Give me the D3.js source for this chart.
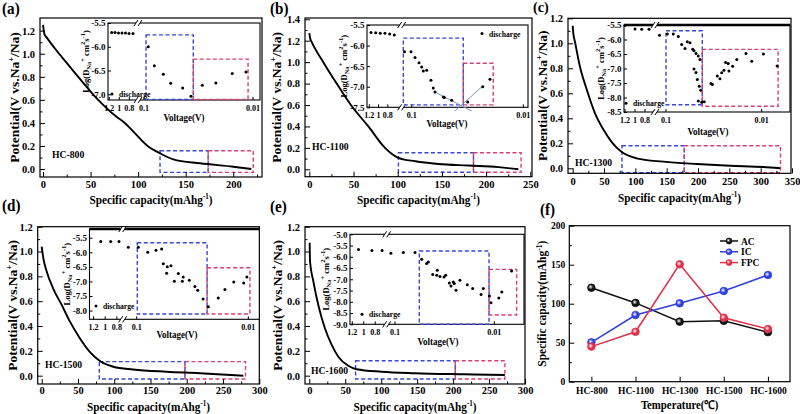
<!DOCTYPE html>
<html><head><meta charset="utf-8">
<script src="https://cdn.jsdelivr.net/npm/d3@7"></script>
<style>
body{margin:0;background:#fff}
svg{display:block}
text{font-family:'Liberation Serif','Times New Roman',serif;font-weight:bold;fill:#000}
</style>
</head><body>
<svg id="c" width="800" height="414"></svg>
<script>
// ================= DATA =================
// (a) HC-800 discharge curve
const capA=[0,1.5,4,14,25,37,58,77,86,95,110,123,137,165,200,219];
const potA=[1.25,1.17,1.14,1.03,0.92,0.80,0.60,0.455,0.40,0.325,0.20,0.136,0.084,0.05,0.02,0.0];
const voltA=[1.152,1.086,1.016,0.946,0.876,0.806,0.726,0.0913,0.0804,0.0665,0.0569,0.0442,0.0371,0.0292,0.0219,0.0155,0.0116];
const logDA=[-5.70,-5.70,-5.71,-5.71,-5.71,-5.72,-5.72,-6.0,-6.4,-6.58,-6.77,-6.87,-7.04,-6.81,-6.76,-6.56,-6.53];
const regionA=[123,173.6,221];            // capacity limits of the blue / red regions
const insBlueA=[0.0958,0.0353,-5.75,-7.11]; // voltage from, to, logD top, bottom
const insRedA=[0.0353,0.0111,-6.26,-7.11];

// (b) HC-1100
const capB=[0,1,2.6,15.8,31,47,66.8,85.6,100,120,146,180,214,236.5];
const potB=[1.27,1.22,1.19,1.0,0.8,0.6,0.4,0.2,0.11,0.075,0.05,0.035,0.02,0.0];
const voltB=[1.164,1.062,0.963,0.861,0.76,0.66,0.116,0.1014,0.0934,0.086,0.0814,0.0787,0.0734,0.0672,0.0641,0.0618,0.0521,0.051,0.0438,0.0315,0.0231,0.0199];
const logDB=[-5.68,-5.69,-5.70,-5.70,-5.72,-5.74,-6.15,-6.15,-6.29,-6.42,-6.52,-6.62,-6.60,-6.84,-7.03,-7.13,-7.25,-7.26,-7.33,-7.37,-7.0,-6.82];
const regionB=[100.8,185.7,239.5];
const insBlueB=[0.1189,0.0345,-5.82,-7.44];
const insRedB=[0.0345,0.0186,-6.43,-7.44];
const tangent1V=[0.0618,0.029], tangent1D=[-7.13,-7.59];
const tangent2V=[0.041,0.0228], tangent2D=[-7.59,-6.97];

// (c) HC-1300
const capC=[0,1,3.7,11.7,22.4,35.6,49,62.3,78.3,102,144.7,198,251,304.5,331];
const potC=[1.14,1.08,1.01,0.81,0.63,0.44,0.31,0.21,0.13,0.08,0.053,0.034,0.02,0.01,0.0];
const voltC=[1.2,1.0,0.866,0.72,0.117,0.0969,0.0839,0.0744,0.0686,0.0633,0.0599,0.0561,0.0526,0.051,0.0486,0.046,0.0442,0.051,0.0486,0.0471,0.0449,0.0434,0.046,0.0424,0.0398,0.0339,0.0328,0.0291,0.0273,0.0262,0.0248,0.0238,0.0224,0.022,0.0201,0.0182,0.0146,0.0127,0.0096,0.0069];
const logDC=[-5.52,-5.64,-5.65,-5.65,-5.85,-5.81,-5.81,-5.90,-6.17,-6.31,-6.08,-6.11,-6.34,-6.39,-6.48,-6.57,-6.69,-7.02,-7.14,-7.38,-7.61,-7.75,-8.12,-8.16,-8.15,-7.52,-7.55,-7.26,-7.35,-7.15,-7.06,-6.79,-6.83,-7.09,-6.92,-6.69,-6.48,-6.75,-6.5,-6.91];
const regionC=[78.6,178,331.6];
const insBlueC=[0.1,0.0418,-5.70,-8.25];
const insRedC=[0.0418,0.00674,-6.34,-8.3];

// (d) HC-1500
const capD=[0,2.3,6.9,16,27.6,39,52.8,66.6,80.3,98.7,126,172,218,278];
const potD=[1.04,0.945,0.84,0.70,0.57,0.435,0.30,0.19,0.118,0.072,0.05,0.032,0.02,0.0];
const voltD=[1.077,0.906,0.763,0.119,0.0967,0.0797,0.0672,0.0598,0.0578,0.0532,0.0539,0.0493,0.046,0.0424,0.039,0.0383,0.0338,0.0301,0.0284,0.0254,0.0228,0.0186,0.0162,0.0135,0.011,0.0103];
const logDD=[-5.63,-5.63,-5.63,-5.83,-5.83,-6.0,-5.93,-5.89,-6.39,-6.5,-6.72,-6.46,-6.99,-6.73,-6.99,-6.85,-6.96,-7.17,-7.3,-7.6,-7.87,-7.57,-7.28,-7.02,-7.05,-6.85];
const regionD=[79.4,197.5,281];
const insBlueD=[0.0988,0.0234,-5.67,-8.12];
const insRedD=[0.0234,0.00967,-6.53,-8.12];

// (e) HC-1600
const capE=[0.5,1,5.6,12.5,21.8,31,40.3,54.2,65.8,100.5,146.8,216,272];
const potE=[1.07,0.92,0.76,0.57,0.38,0.25,0.153,0.08,0.052,0.032,0.02,0.011,0.005];
const voltE=[1.092,0.858,0.681,0.11,0.0825,0.0629,0.0539,0.048,0.0462,0.0417,0.038,0.0375,0.0352,0.0321,0.0309,0.0284,0.0273,0.0259,0.0253,0.0243,0.0222,0.0187,0.0165,0.0136,0.0129,0.0112,0.0108,0.009,0.0084,0.0067];
const logDE=[-5.68,-5.72,-5.72,-5.84,-5.81,-5.81,-6.11,-6.3,-6.23,-6.79,-6.82,-6.6,-6.87,-6.9,-6.82,-7.16,-7.3,-7.12,-7.19,-7.49,-7.04,-7.24,-7.41,-7.67,-7.41,-7.74,-8.04,-7.83,-7.56,-6.63];
const regionE=[64.4,203,272];
const insBlueE=[0.0569,0.0113,-5.74,-9.0];
const insRedE=[0.0113,0.00596,-6.56,-8.59];

// (f) capacity contributions
const categories=["HC-800","HC-1100","HC-1300","HC-1500","HC-1600"];
const AC=[120.5,101,77,78,63.5];
const IC=[50.5,85.5,100.5,116.3,136.8];
const FPC=[45,64,150.5,82,67.5];

// tick labels
const insetLinTicks=[1.2,1,0.8];
const insetLogTicks=[0.1,0.01];
const fYTicks=[0,50,100,150,200];

// ================= DRAWING =================
const svg=d3.select("#c");
const BLUE="#3947d6", RED="#d9416f";

const defs=svg.append("defs");
function ballGrad(id,col){
  const gr=defs.append("radialGradient").attr("id",id).attr("cx","40%").attr("cy","40%").attr("r","60%");
  gr.append("stop").attr("offset","0%").attr("stop-color","#fff");
  gr.append("stop").attr("offset","55%").attr("stop-color",col);
  gr.append("stop").attr("offset","100%").attr("stop-color",col);
}
ballGrad("gAC","#111");ballGrad("gIC","#2f3fe0");ballGrad("gFPC","#e0304a");

function dashedRect(g,x0,x1,y0,y1,col){
  g.append("rect").attr("x",Math.min(x0,x1)).attr("y",Math.min(y0,y1))
   .attr("width",Math.abs(x1-x0)).attr("height",Math.abs(y1-y0))
   .attr("fill","none").attr("stroke",col).attr("stroke-width",1.4).attr("stroke-dasharray","4,2.5");
}

function hText(g,x,y,anchor,size,sx){
  return g.append("text").attr("transform",`translate(${x},${y}) scale(${sx||0.88},1)`)
    .attr("text-anchor",anchor).attr("font-size",size);
}

function drawMain(p){
  const x=d3.scaleLinear().domain(p.xDom).range([p.L,p.R]);
  const y=d3.scaleLinear().domain(p.yDom).range([p.B,p.T]);
  const g=svg.append("g");
  // regions
  dashedRect(g,x(p.region[0]),x(p.region[1]),y(p.boxY[0]),y(p.boxY[1]),BLUE);
  dashedRect(g,x(p.region[1]),x(p.region[2]),y(p.boxY[0]),y(p.boxY[1]),RED);
  // curve
  g.append("path").datum(d3.range(p.cap.length))
   .attr("d",d3.line().x(i=>x(p.cap[i])).y(i=>y(p.pot[i])).curve(d3.curveMonotoneX))
   .attr("fill","none").attr("stroke","#000").attr("stroke-width",1.9);
  // axes
  const xa=g.append("g").attr("transform",`translate(0,${p.B})`)
    .call(d3.axisBottom(x).tickValues(p.xTicks).tickSize(-5).tickPadding(p.xPad).tickFormat(d3.format("d")));
  xa.attr("font-size",10.5).attr("font-family",null);
  xa.select(".domain").remove();
  g.append("g").attr("transform",`translate(0,${p.B})`)
    .call(d3.axisBottom(x).tickValues(p.xMinor).tickSize(-2.5).tickFormat(""))
    .select(".domain").remove();
  const ya=g.append("g").attr("transform",`translate(${p.L},0)`)
    .call(d3.axisLeft(y).tickValues(p.yTicks).tickSize(-5).tickPadding(5).tickFormat(d=>d.toFixed(1)));
  ya.attr("font-size",10.5).attr("font-family",null);
  ya.select(".domain").remove();
  g.append("g").attr("transform",`translate(${p.L},0)`)
    .call(d3.axisLeft(y).tickValues(p.yMinor).tickSize(-2.5).tickFormat(""))
    .select(".domain").remove();
  g.selectAll(".tick line").attr("stroke-width",1);
  g.append("rect").attr("x",p.L).attr("y",p.T).attr("width",p.R-p.L).attr("height",p.B-p.T)
   .attr("fill","none").attr("stroke","#000").attr("stroke-width",1.2);
  // titles
  const xt=hText(g,(p.L+p.R)/2,p.xtitleY,"middle",12.8,0.88);
  xt.append("tspan").text("Specific capacity(mAhg");
  xt.append("tspan").attr("font-size",8).attr("dy",-5).text("-1");
  xt.append("tspan").attr("dy",5).text(")");
  const yt=g.append("text").attr("transform",`translate(${p.ytitleX},${(p.T+p.B)/2}) rotate(-90)`)
    .attr("text-anchor","middle").attr("font-size",13.5);
  yt.append("tspan").text("Potential(V vs.Na");
  yt.append("tspan").attr("font-size",8.5).attr("dy",-5).text("+");
  yt.append("tspan").attr("dy",5).text("/Na)");
  hText(g,p.sampleXY[0],p.sampleXY[1],"start",11).text(p.sample);
  hText(g,p.labelXY[0],p.labelXY[1],"start",p.labelSize||16,0.95).text(p.label);
  drawInset(p.ins);
}

function drawInset(s){
  const g=svg.append("g");
  const y=d3.scaleLinear().domain(s.yDom).range([s.B,s.T]);
  const lin=d3.scaleLinear().domain(s.linDom).range([s.L,s.brk]);
  const lg=d3.scaleLog().domain([0.1,0.01]).range([s.p1,s.p2]);
  const X=v=>v>0.3?lin(v):lg(v);
  g.append("rect").attr("x",s.L).attr("y",s.T).attr("width",s.R-s.L).attr("height",s.B-s.T)
   .attr("fill","#fff").attr("stroke","#000").attr("stroke-width",1.1);
  if(s.thickTop){
    g.append("line").attr("x1",s.L).attr("x2",s.R).attr("y1",s.T).attr("y2",s.T)
     .attr("stroke","#000").attr("stroke-width",2.6);
  }
  // y axis
  const ya=g.append("g").attr("transform",`translate(${s.L},0)`)
    .call(d3.axisLeft(y).tickValues(s.yTicks).tickSize(-3).tickPadding(2.5).tickFormat(d=>d.toFixed(1)));
  ya.attr("font-size",9).attr("font-family",null);
  ya.select(".domain").remove();
  // x ticks
  const tv=insetLinTicks.concat(insetLogTicks);
  tv.forEach(v=>{
    const px=X(v);
    g.append("line").attr("x1",px).attr("x2",px).attr("y1",s.B).attr("y2",s.B-3).attr("stroke","#000");
    hText(g,px,s.B+10.5,"middle",9,0.9).text(String(v));
  });
  // break marks on top and bottom axes
  [s.T,s.B].forEach(yy=>{
    g.append("rect").attr("x",s.brk-2).attr("y",yy-2).attr("width",4).attr("height",4).attr("fill","#fff");
    [-2,2].forEach(o=>{
      g.append("line").attr("x1",s.brk+o-2).attr("y1",yy+3).attr("x2",s.brk+o+2).attr("y2",yy-3)
       .attr("stroke","#000").attr("stroke-width",1);
    });
  });
  // region boxes
  dashedRect(g,X(s.blue[0]),X(s.blue[1]),y(s.blue[2]),y(s.blue[3]),BLUE);
  dashedRect(g,X(s.red[0]),X(s.red[1]),y(s.red[2]),y(s.red[3]),RED);
  // tangent lines
  (s.tangents||[]).forEach(t=>{
    g.append("line").attr("x1",X(t[0][0])).attr("x2",X(t[0][1])).attr("y1",y(t[1][0])).attr("y2",y(t[1][1]))
     .attr("stroke","#7d95c8").attr("stroke-width",1);
  });
  // points
  g.selectAll("circle.pt").data(d3.range(s.volt.length)).join("circle").attr("class","pt")
   .attr("cx",i=>X(s.volt[i])).attr("cy",i=>y(s.logD[i])).attr("r",1.5).attr("fill","#000");
  // legend
  g.append("circle").attr("cx",s.legXY[0]).attr("cy",s.legXY[1]).attr("r",1.5).attr("fill","#000");
  hText(g,s.legXY[0]+7,s.legXY[1]+3,"start",8.5,0.9).text("discharge");
  // labels
  hText(g,s.vlabelXY[0],s.vlabelXY[1],"middle",10,0.9).text("Voltage(V)");
  const yl=g.append("text").attr("transform",`translate(${s.L-s.ylabOff},${(s.T+s.B)/2}) rotate(-90)`)
    .attr("text-anchor","middle").attr("font-size",8.5);
  yl.append("tspan").text("Log(D");
  yl.append("tspan").attr("font-size",6.5).attr("dy",2).text("Na");
  yl.append("tspan").attr("font-size",6.5).attr("dy",-6).text("+");
  yl.append("tspan").attr("dy",4).text(" cm");
  yl.append("tspan").attr("font-size",6.5).attr("dy",-4).text("2");
  yl.append("tspan").attr("dy",4).text("s");
  yl.append("tspan").attr("font-size",6.5).attr("dy",-4).text("-1");
  yl.append("tspan").attr("dy",4).text(")");
}

const xT250=[0,50,100,150,200,250], xT300=[0,50,100,150,200,250,300], xT350=[0,50,100,150,200,250,300,350];
const yT12=[0,0.2,0.4,0.6,0.8,1.0,1.2], yT14=[0,0.2,0.4,0.6,0.8,1.0,1.2,1.4];
const yM12=[0.1,0.3,0.5,0.7,0.9,1.1], yM14=[0.1,0.3,0.5,0.7,0.9,1.1,1.3];

drawMain({L:40,R:262,T:18,B:177,xDom:[-3.15,230.2],yDom:[-0.069,1.31],
  xTicks:[0,50,100,150,200],xMinor:[25,75,125,175,225],yTicks:yT12,yMinor:yM12,xPad:4,
  cap:capA,pot:potA,region:regionA,boxY:[-0.029,0.159],sample:"HC-800",sampleXY:[52,158],
  label:"(a)",labelXY:[2,14],ytitleX:19,xtitleY:204,
  ins:{L:108,R:260,T:23,B:100,yDom:[-7.12,-5.5],yTicks:[-5.5,-6,-6.5,-7],linDom:[1.226,0.626],brk:138,p1:144,p2:253,
    volt:voltA,logD:logDA,blue:insBlueA,red:insRedA,legXY:[112,94],vlabelXY:[184,121],ylabOff:19}});

drawMain({L:305,R:532,T:18,B:176.7,xDom:[-4.9,251.9],yDom:[-0.069,1.412],
  xTicks:xT250,xMinor:[25,75,125,175,225],yTicks:yT14,yMinor:yM14,xPad:4,
  cap:capB,pot:potB,region:regionB,boxY:[-0.028,0.155],sample:"HC-1100",sampleXY:[312,150],
  label:"(b)",labelXY:[270,14],ytitleX:281,xtitleY:204,
  ins:{L:367,R:528,T:25,B:107.3,yDom:[-7.5,-5.5],yTicks:[-5.5,-6,-6.5,-7,-7.5],linDom:[1.25,0.5],brk:401.7,p1:411.7,p2:523.3,
    volt:voltB,logD:logDB,blue:insBlueB,red:insRedB,legXY:[482,33.5],vlabelXY:[447,127],ylabOff:20,
    tangents:[[tangent1V,tangent1D],[tangent2V,tangent2D]]}});

drawMain({L:568,R:791,T:18.3,B:173.3,xDom:[-7.5,348.4],yDom:[-0.04,1.2],
  xTicks:xT350,xMinor:[25,75,125,175,225,275,325],yTicks:yT12,yMinor:yM12,xPad:4,
  cap:capC,pot:potC,region:regionC,boxY:[-0.035,0.18],sample:"HC-1300",sampleXY:[575,166],
  label:"(c)",labelXY:[533,12],labelSize:15,ytitleX:547,xtitleY:202,
  ins:{L:624,R:790,T:25,B:112,yDom:[-8.5,-5.5],yTicks:[-5.5,-6,-6.5,-7,-7.5,-8,-8.5],linDom:[1.22,0.6],brk:655,p1:666,p2:761.7,
    volt:voltC,logD:logDC,blue:insBlueC,red:insRedC,legXY:[626,103.3],vlabelXY:[708,135],ylabOff:20,thickTop:true}});

drawMain({L:37.7,R:259.3,T:226.7,B:384,xDom:[-5.5,300],yDom:[-0.067,1.2],
  xTicks:xT300,xMinor:[25,75,125,175,225,275],yTicks:yT12,yMinor:yM12,xPad:3,
  cap:capD,pot:potD,region:regionD,boxY:[-0.027,0.113],sample:"HC-1500",sampleXY:[45,368],
  label:"(d)",labelXY:[2,211],ytitleX:17,xtitleY:411,
  ins:{L:89.5,R:259.3,T:229,B:319.3,yDom:[-8.3,-5.2],yTicks:[-5.5,-6,-6.5,-7,-7.5,-8],linDom:[1.27,0.7],brk:122.7,p1:136.7,p2:248.3,
    volt:voltD,logD:logDD,blue:insBlueD,red:insRedD,legXY:[96,306],vlabelXY:[177,338],ylabOff:20,thickTop:true}});

drawMain({L:305,R:525,T:226.7,B:384,xDom:[-6,300],yDom:[-0.067,1.2],
  xTicks:xT300,xMinor:[25,75,125,175,225,275],yTicks:yT12,yMinor:yM12,xPad:3,
  cap:capE,pot:potE,region:regionE,boxY:[-0.027,0.12],sample:"HC-1600",sampleXY:[311,374],
  label:"(e)",labelXY:[270,212],ytitleX:282,xtitleY:411,
  ins:{L:350,R:524,T:234.3,B:324.3,yDom:[-9,-5],yTicks:[-5,-5.5,-6,-6.5,-7,-7.5,-8,-8.5,-9],linDom:[1.24,0.6],brk:386.7,p1:395,p2:494.3,
    volt:voltE,logD:logDE,blue:insBlueE,red:insRedE,legXY:[362,314.3],vlabelXY:[438,345],ylabOff:21}});

// ---------- panel (f) ----------
(function(){
  const L=569.3,R=790,T=225.7,B=381.7;
  const g=svg.append("g");
  const x=d3.scalePoint().domain(categories).range([L,R]).padding(0.5);
  const y=d3.scaleLinear().domain([0,200]).range([B,T]);
  const xa=g.append("g").attr("transform",`translate(0,${B})`)
    .call(d3.axisBottom(x).tickSize(-5).tickPadding(6));
  xa.attr("font-size",9.5).attr("font-family",null); xa.select(".domain").remove();
  const ya=g.append("g").attr("transform",`translate(${L},0)`)
    .call(d3.axisLeft(y).tickValues(fYTicks).tickSize(-5).tickPadding(4));
  ya.attr("font-size",9.5).attr("font-family",null); ya.select(".domain").remove();
  g.append("g").attr("transform",`translate(${L},0)`)
    .call(d3.axisLeft(y).tickValues([25,75,125,175]).tickSize(-2.5).tickFormat("")).select(".domain").remove();
  g.append("rect").attr("x",L).attr("y",T).attr("width",R-L).attr("height",B-T)
   .attr("fill","none").attr("stroke","#000").attr("stroke-width",1.2);
  const series=[{name:"AC",v:AC,c:"#111",gid:"gAC"},{name:"IC",v:IC,c:"#2f3fe0",gid:"gIC"},{name:"FPC",v:FPC,c:"#e0304a",gid:"gFPC"}];
  const line=d3.line().x((d,i)=>x(categories[i])).y(d=>y(d));
  series.forEach(s=>{
    g.append("path").datum(s.v).attr("d",line).attr("fill","none").attr("stroke",s.c).attr("stroke-width",1.5);
    g.selectAll(null).data(s.v).join("circle").attr("cx",(d,i)=>x(categories[i])).attr("cy",d=>y(d))
     .attr("r",3.8).attr("fill",`url(#${s.gid})`).attr("stroke",s.c).attr("stroke-width",0.8);
  });
  // legend
  series.forEach((s,i)=>{
    const yy=241+i*10.8;
    g.append("line").attr("x1",720).attr("x2",738).attr("y1",yy).attr("y2",yy).attr("stroke",s.c).attr("stroke-width",1.5);
    g.append("circle").attr("cx",729).attr("cy",yy).attr("r",3).attr("fill",`url(#${s.gid})`).attr("stroke",s.c).attr("stroke-width",0.7);
    hText(g,741,yy+3.5,"start",10.5,0.9).text(s.name);
  });
  const yt=g.append("text").attr("transform",`translate(546,${(T+B)/2}) rotate(-90)`).attr("text-anchor","middle").attr("font-size",11.5);
  yt.append("tspan").text("Specific capacity(mAhg");
  yt.append("tspan").attr("font-size",7.5).attr("dy",-4).text("-1");
  yt.append("tspan").attr("dy",4).text(")");
  const xt=hText(g,(L+R)/2,409,"middle",12,0.9);
  xt.append("tspan").text("Temperature(℃)");
  hText(g,540,215,"start",16,0.95).text("(f)");
})();
</script>
</body></html>
